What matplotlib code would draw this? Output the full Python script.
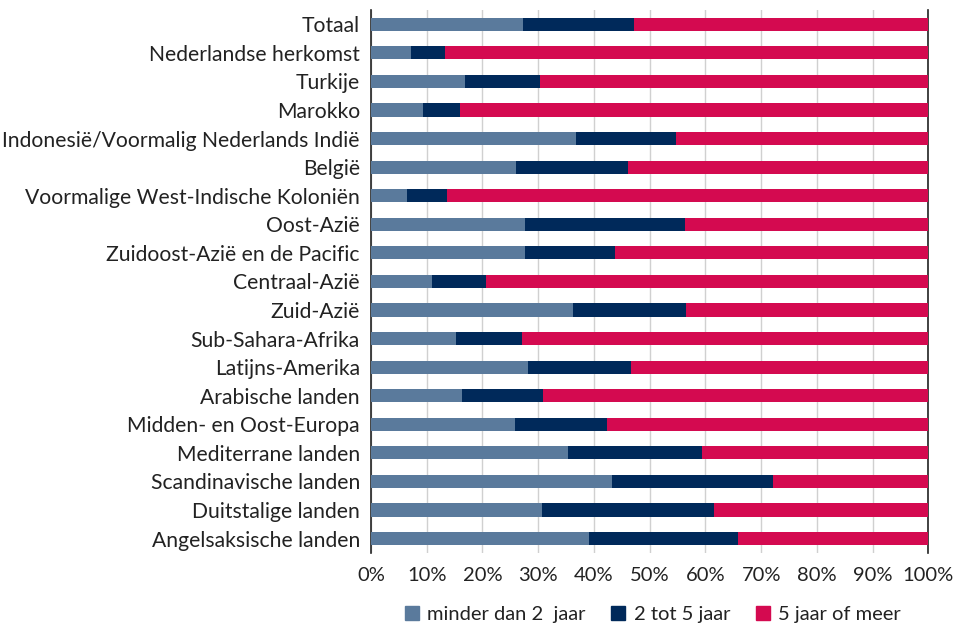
import numpy as np
import matplotlib.pyplot as plt
from matplotlib.patches import Patch

plt.rcParams['font.family'] = ['Lato', 'DejaVu Sans']

categories = [
    "Totaal", "Nederlandse herkomst", "Turkije", "Marokko",
    "Indonesië/Voormalig Nederlands Indië", "België",
    "Voormalige West-Indische Koloniën", "Oost-Azië",
    "Zuidoost-Azië en de Pacific", "Centraal-Azië", "Zuid-Azië",
    "Sub-Sahara-Afrika", "Latijns-Amerika", "Arabische landen",
    "Midden- en Oost-Europa", "Mediterrane landen",
    "Scandinavische landen", "Duitstalige landen", "Angelsaksische landen",
]
# share (%) per category
minder_2 = [27.2, 7.2, 16.8, 9.4, 36.8, 26.1, 6.4, 27.6, 27.6, 10.9,
            36.2, 15.3, 28.1, 16.3, 25.8, 35.4, 43.3, 30.7, 39.1]
tot_5_end = [47.2, 13.3, 30.3, 15.9, 54.7, 46.1, 13.6, 56.3, 43.8, 20.6,
             56.5, 27.1, 46.7, 30.9, 42.4, 59.3, 72.1, 61.6, 65.8]

minder_2 = np.array(minder_2)
twee_vijf = np.array(tot_5_end) - minder_2
vijf_meer = 100 - np.array(tot_5_end)

labels = ["minder dan 2  jaar", "2 tot 5 jaar", "5 jaar of meer"]
colors = ["#5A7A9C", "#00295A", "#D40A50"]

fig, ax = plt.subplots(figsize=(9.6, 6.29), dpi=100)
fig.subplots_adjust(left=0.3865, right=0.967, top=0.984, bottom=0.121)

y = np.arange(len(categories))
h = 0.46
ax.barh(y, minder_2, height=h, color=colors[0], zorder=3)
ax.barh(y, twee_vijf, left=minder_2, height=h, color=colors[1], zorder=3)
ax.barh(y, vijf_meer, left=minder_2 + twee_vijf, height=h, color=colors[2], zorder=3)

ax.set_xlim(0, 100)
ax.set_ylim(len(categories) - 0.5, -0.5)
ax.set_yticks(y)
ax.set_yticklabels(categories, fontsize=15.2, color="#222222")
ax.set_xticks(range(0, 101, 10))
ax.set_xticklabels([f"{v}%" for v in range(0, 101, 10)], fontsize=14.5, color="#222222")
ax.tick_params(axis='both', length=0, pad=8)
ax.tick_params(axis='x', pad=10)

ax.grid(axis='x', color="#D0D0D0", linewidth=1, zorder=0)
for s in ["top", "bottom"]:
    ax.spines[s].set_visible(False)
for s in ["left", "right"]:
    ax.spines[s].set_color("#222222")
    ax.spines[s].set_linewidth(1.2)

handles = [Patch(color=c, label=l) for c, l in zip(colors, labels)]
fig.legend(handles=handles, loc="center", bbox_to_anchor=(0.68, 0.023), ncol=3,
           frameon=False, fontsize=14.5, handlelength=0.7, handleheight=0.7,
           handletextpad=0.4, columnspacing=1.3, labelcolor="#222222")

fig.savefig("out.png", dpi=100)
